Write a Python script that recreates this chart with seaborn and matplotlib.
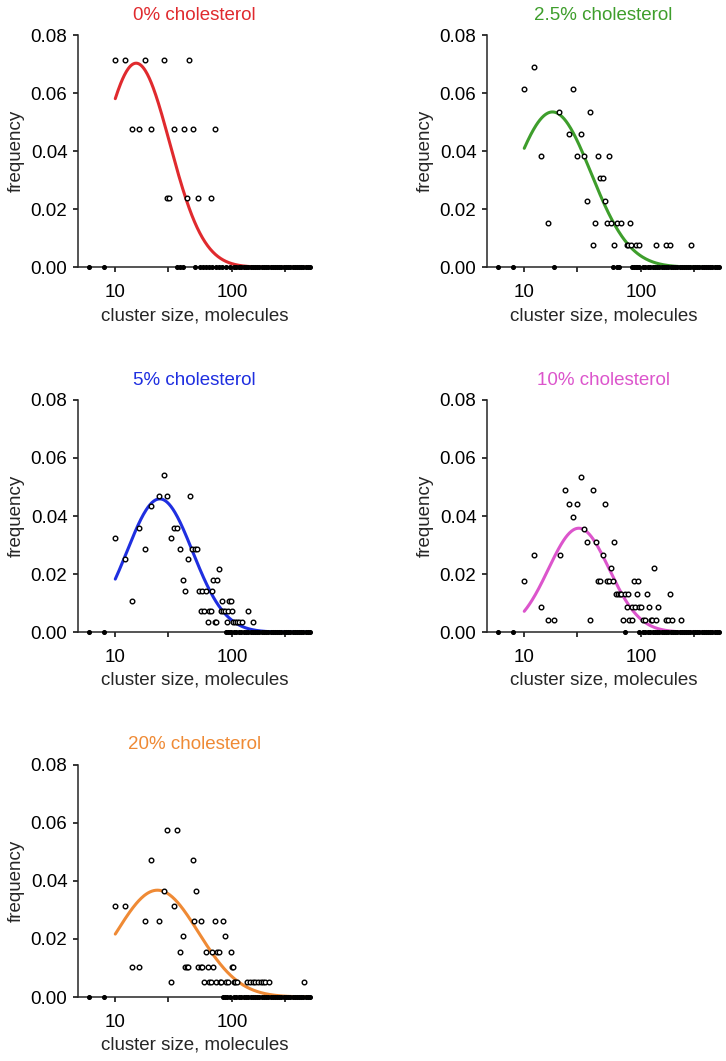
import numpy as np
import pandas as pd
import matplotlib
matplotlib.use("Agg")
import matplotlib.pyplot as plt
import seaborn as sns

# panel titles and colours
titles = ["0% cholesterol", "2.5% cholesterol", "5% cholesterol",
          "10% cholesterol", "20% cholesterol"]
colors = ["#e02a2e", "#3e9e2c", "#1f2fe0", "#dc55cc", "#ef8a35"]

# measured histogram points (cluster size, frequency)
size_0 = [10, 12, 18, 26, 43, 14, 16, 20, 32, 39, 46, 71, 27.5, 29, 41, 51, 66]
freq_0 = [0.0714, 0.0714, 0.0714, 0.0714, 0.0714,
          0.0476, 0.0476, 0.0476, 0.0476, 0.0476, 0.0476, 0.0476,
          0.0238, 0.0238, 0.0238, 0.0238, 0.0238]

size_1 = [10, 12, 14, 16, 20, 24, 26, 28.5, 30.5, 32.5, 34.5, 36.5, 38.5, 40.5,
          42.5, 44.5, 47, 49, 51, 53, 55, 59, 61.5, 67, 75, 77, 79.5, 81.5, 89.5,
          95, 134, 161, 177, 268]
freq_1 = [0.0613, 0.0689, 0.0383, 0.0154, 0.0536, 0.0459, 0.0613, 0.0383, 0.0459,
          0.0383, 0.0229, 0.0536, 0.0077, 0.0154, 0.0383, 0.0306, 0.0306, 0.0229,
          0.0154, 0.0383, 0.0154, 0.0077, 0.0154, 0.0154, 0.0077, 0.0077, 0.0154,
          0.0077, 0.0077, 0.0077, 0.0077, 0.0077, 0.0077, 0.0077]

size_2 = [10, 12, 14, 16, 18, 20, 23.7, 26, 27.6, 30, 32, 34, 35.8, 37.8, 39.5,
          41.4, 43.3, 45.3, 47.8, 49.7, 51.4, 53.8, 55.6, 57.4, 59.7, 61.7, 63.3,
          65.4, 67.6, 69, 70.8, 73.2, 74.6, 77, 79.6, 81.3, 84, 87.3, 89.6, 92.6,
          94.4, 96.9, 100, 101, 105, 110, 115, 122, 136, 151]
freq_2 = [0.0325, 0.0252, 0.0109, 0.036, 0.0288, 0.0433, 0.047, 0.0542, 0.047,
          0.0325, 0.036, 0.036, 0.0288, 0.018, 0.0143, 0.0252, 0.047, 0.0288,
          0.0288, 0.0288, 0.0143, 0.0072, 0.0143, 0.0072, 0.0143, 0.0036, 0.0072,
          0.0072, 0.0143, 0.018, 0.0036, 0.0036, 0.018, 0.0216, 0.0072, 0.0108,
          0.0072, 0.0072, 0.0036, 0.0072, 0.0108, 0.0108, 0.0072, 0.0036, 0.0036,
          0.0036, 0.0036, 0.0036, 0.0072, 0.0036]

size_3 = [10, 12, 14, 16, 18, 20.3, 22.3, 24.3, 26.3, 28.5, 30.4, 32.5, 34.5,
          36.4, 38.6, 40.7, 42.6, 44.7, 46.8, 48.7, 51, 53, 54.9, 57, 59, 60.5, 63,
          65.2, 67.3, 69.2, 72, 74.9, 77.3, 78.9, 82.6, 83.6, 87, 88.3, 91.3, 93.6,
          95.5, 98.8, 104, 107.6, 112, 115.8, 120.5, 124.5, 129.5, 133, 138, 161,
          169, 176, 183, 219]
freq_3 = [0.0176, 0.0265, 0.0086, 0.0043, 0.0043, 0.0265, 0.0489, 0.0443, 0.0398,
          0.0443, 0.0533, 0.0354, 0.0309, 0.0043, 0.0489, 0.0309, 0.0176, 0.0176,
          0.0265, 0.0443, 0.0176, 0.0176, 0.022, 0.0176, 0.0309, 0.0131, 0.0131,
          0.0131, 0.0131, 0.0043, 0.0131, 0.0086, 0.0131, 0.0043, 0.0043, 0.0086,
          0.0176, 0.0086, 0.0131, 0.0176, 0.0086, 0.0086, 0.0043, 0.0043, 0.0131,
          0.0086, 0.0043, 0.0043, 0.022, 0.0043, 0.0086, 0.0043, 0.0043, 0.0131,
          0.0043, 0.0043]

size_4 = [10, 12, 14, 16, 18, 20, 23.7, 26, 27.6, 30, 32, 33.6, 35.6, 37.8, 39.5,
          40.8, 42.2, 45.7, 47.2, 49.4, 51, 53.5, 53.5, 55.6, 57, 59, 61.5, 63.3,
          65.4, 66.7, 69, 70.8, 72.3, 74.6, 77.3, 78.2, 80, 82.8, 86.7, 89, 92.6,
          96.9, 98.9, 100.5, 103, 106, 110, 134.6, 141, 149, 157, 165, 174.6, 183,
          192, 204, 412]
freq_4 = [0.0313, 0.0313, 0.0105, 0.0105, 0.0261, 0.0471, 0.0261, 0.0365, 0.0575,
          0.0052, 0.0313, 0.0575, 0.0156, 0.0209, 0.0105, 0.0105, 0.0105, 0.0471,
          0.0261, 0.0365, 0.0105, 0.0261, 0.0105, 0.0105, 0.0052, 0.0156, 0.0105,
          0.0052, 0.0052, 0.0156, 0.0105, 0.0261, 0.0052, 0.0156, 0.0156, 0.0052,
          0.0052, 0.0261, 0.0209, 0.0052, 0.0052, 0.0156, 0.0105, 0.0105, 0.0052,
          0.0052, 0.0052, 0.0052, 0.0052, 0.0052, 0.0052, 0.0052, 0.0052, 0.0052,
          0.0052, 0.0052, 0.0052]

# sizes with zero frequency (sit on the x axis)
zeros_0 = [6, 8, 34, 36, 38, 48, 53, 56, 60, 63, 67, 72, 77, 82, 88]
zeros_1 = [6, 8, 18, 57, 62, 64, 84, 86, 90, 92]
zeros_2 = [6, 8, 88, 91, 98]
zeros_3 = [6, 8, 73]
zeros_4 = [6, 8, 84, 87, 90]
zeros_tail = [96, 103, 108, 113, 118, 125, 130, 137, 143, 150, 156, 163, 170, 178,
              186, 194, 203, 212, 221, 231, 241, 252, 263, 275, 287, 300, 313, 327,
              341, 356, 372, 388, 405, 423, 442, 460]

# log-normal fit: amplitude, log10 centre, log10 width
fits = [(0.0703, 1.178, 0.288), (0.0535, 1.241, 0.33), (0.0459, 1.38, 0.28),
        (0.0358, 1.466, 0.26), (0.0368, 1.36, 0.35)]

sizes = [size_0, size_1, size_2, size_3, size_4]
freqs = [freq_0, freq_1, freq_2, freq_3, freq_4]
zeros = [zeros_0, zeros_1, zeros_2, zeros_3, zeros_4]

sns.set_theme(style="ticks")
plt.rcParams["font.family"] = ["Liberation Sans", "DejaVu Sans"]
plt.rcParams["axes.linewidth"] = 1.1

fig, axes = plt.subplots(3, 2, figsize=(7.26, 10.61), dpi=100)
fig.subplots_adjust(left=0.1074, right=0.9917, top=0.967, bottom=0.0603,
                    wspace=0.755, hspace=0.571)
axes = axes.flatten()
axes[5].remove()

for i in range(5):
    ax = axes[i]
    amp, mu, sig = fits[i]
    xc = np.geomspace(10, 470, 300)
    yc = amp * np.exp(-(np.log10(xc) - mu) ** 2 / (2 * sig ** 2))
    sns.lineplot(x=xc, y=yc, color=colors[i], linewidth=2.2, ax=ax, zorder=2)

    pts = pd.DataFrame({"size": sizes[i], "freq": freqs[i]})
    sns.scatterplot(data=pts, x="size", y="freq", s=11, marker="o",
                    facecolor="white", edgecolor="black", linewidth=1.0,
                    ax=ax, zorder=4)
    zx = zeros[i] + zeros_tail
    zp = pd.DataFrame({"size": zx, "freq": [0.0] * len(zx)})
    sns.scatterplot(data=zp, x="size", y="freq", s=8, marker="o",
                    facecolor="black", edgecolor="black", linewidth=0.8,
                    ax=ax, zorder=4, clip_on=False)

    ax.set_xscale("log")
    ax.set_xlim(4.8, 470)
    ax.set_ylim(0, 0.08)
    ax.set_xticks([10, 100])
    ax.set_xticklabels(["10", "100"])
    ax.set_xticks([28, 280], minor=True)
    ax.set_xticklabels([], minor=True)
    ax.set_yticks([0, 0.02, 0.04, 0.06, 0.08])
    ax.set_yticklabels(["0.00", "0.02", "0.04", "0.06", "0.08"])
    ax.tick_params(which="both", direction="out", length=3.6, width=1.1,
                   labelsize=13.5, pad=4, color="black", labelcolor="black")
    ax.tick_params(axis="x", which="both", pad=8.3)
    ax.set_xlabel("cluster size, molecules", fontsize=13.5, labelpad=4.5)
    ax.set_ylabel("frequency", fontsize=13.5, labelpad=4)
    ax.set_title(titles[i], color=colors[i], fontsize=13.5, pad=11)
    sns.despine(ax=ax)

fig.savefig("out.png", dpi=100)
plt.close()
